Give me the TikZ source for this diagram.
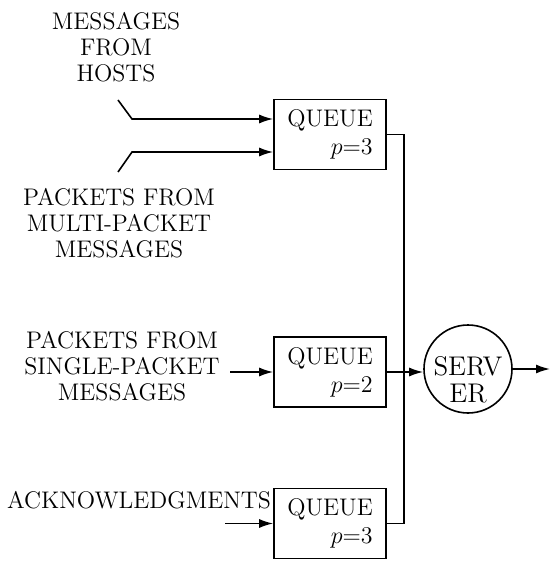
\documentclass[tikz,border=0pt]{standalone}
\usepackage{amsmath}
\usetikzlibrary{arrows.meta, positioning}

\begin{document}
\begin{tikzpicture}[x=0.5pt,y=-0.5pt,
    font=\fontsize{12pt}{13pt}\selectfont,
    >={Latex[length=7pt,width=4.5pt]}]
        \useasboundingbox (0,0) rectangle (551,561);
        \begin{scope}[every node/.style={draw,thick,minimum width=56pt,minimum height=35pt,align=right,
            font=\fontsize{12pt}{14pt}\selectfont}]
          \node (q1) at (330,134.5) {QUEUE\\$p{=}3$};
          \node (q2) at (330,372) {QUEUE\\$p{=}2$};
          \node (q3) at (330,523.5) {QUEUE\\$p{=}3$};
        \end{scope}
        \node[draw,thick,circle,minimum size=44pt,inner sep=0pt] (srv) at (468,369) {};
        \node[align=center,font=\fontsize{13.5pt}{13.5pt}\selectfont] (srvtext) at (468,380) {SERV\\ER};
        \begin{scope}[every node/.style={align=center}]
          \node (hosts) at (116,47) {MESSAGES\\FROM\\HOSTS};
          \node (multi) at (119,223) {PACKETS FROM\\MULTI-PACKET\\MESSAGES};
          \node (single) at (122,366) {PACKETS FROM\\SINGLE-PACKET\\MESSAGES};
          \node (ack) at (139,500) {ACKNOWLEDGMENTS};
        \end{scope}
        \coordinate (h0) at (118,100);
        \coordinate (h1) at (132,119);
        \coordinate (m0) at (118,172);
        \coordinate (m1) at (132,152);
        \coordinate (s0) at (230,372);
        \coordinate (a0) at (225,523.5);
        \coordinate (bus) at (404,372);
        \coordinate (out) at (550,369);
        \begin{scope}[every edge/.style={draw=black,thick,->}]
          \draw[thick,->] (h0) -- (h1) -- (h1 -| q1.west);
          \draw[thick,->] (m0) -- (m1) -- (m1 -| q1.west);
          \path (s0) edge (q2.west);
          \path (a0) edge (q3.west);
          \path (q2.east) edge (q2.east -| srv.west);
          \path (srv.east) edge (out);
        \end{scope}
        \draw[thick] (q1.east) -| (bus);
        \draw[thick] (q3.east) -| (bus);
\end{tikzpicture}
\end{document}
